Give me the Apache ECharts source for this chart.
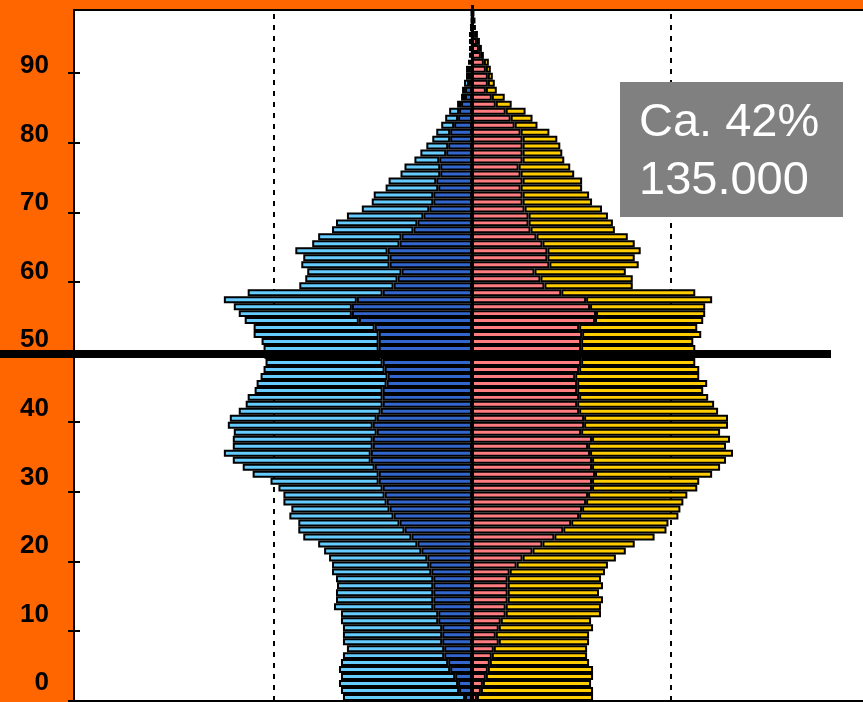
<!DOCTYPE html>
<html><head><meta charset="utf-8">
<script src="https://cdn.jsdelivr.net/npm/echarts@6/dist/echarts.min.js"></script>
<style>html,body{margin:0;padding:0;background:#FF6600;}#c{width:863px;height:702px;}</style>
</head><body><div id="c"></div>
<script>
const ages = [0,1,2,3,4,5,6,7,8,9,10,11,12,13,14,15,16,17,18,19,20,21,22,23,24,25,26,27,28,29,30,31,32,33,34,35,36,37,38,39,40,41,42,43,44,45,46,47,48,49,50,51,52,53,54,55,56,57,58,59,60,61,62,63,64,65,66,67,68,69,70,71,72,73,74,75,76,77,78,79,80,81,82,83,84,85,86,87,88,89,90,91,92,93,94,95,96,97,98];
const ageTicks = [0,10,20,30,40,50,60,70,80,90];
const maleTotal = [1300,1320,1340,1320,1340,1320,1300,1260,1300,1300,
 1300,1320,1320,1390,1370,1370,1360,1370,1410,1410,
 1440,1490,1550,1700,1750,1750,1840,1820,1900,1900,
 1950,2030,2210,2310,2410,2500,2410,2410,2400,2460,
 2440,2350,2280,2260,2190,2170,2130,2100,2080,2090,
 2100,2120,2200,2200,2290,2350,2400,2500,2260,1740,
 1680,1660,1720,1700,1780,1610,1550,1410,1370,1260,
 1110,1010,990,870,840,720,680,580,520,460,
 400,360,310,270,230,150,110,100,80,60,
 60,40,30,30,30,30,10,10,10];
const maleInner = [70,130,140,170,220,240,280,280,300,300,
 300,340,340,390,390,390,390,390,410,430,
 450,510,550,610,680,730,790,830,860,880,
 900,940,940,980,1020,1020,1000,1000,960,1000,
 960,920,900,900,900,860,850,880,900,920,
 940,940,940,980,1140,1210,1210,1160,900,790,
 750,710,830,830,850,730,710,590,550,490,
 430,390,390,340,360,320,320,330,260,240,
 220,220,180,140,130,110,70,70,30,30,
 30,20,10,10,10,10,10,0,0];
const femaleInner = [50,90,110,140,160,180,200,220,270,240,
 270,290,340,340,360,360,360,360,380,450,
 510,610,710,830,920,1000,1080,1110,1150,1170,
 1210,1210,1240,1210,1210,1190,1170,1210,1100,1130,
 1130,1080,1060,1080,1060,1060,1040,1080,1100,1100,
 1100,1100,1110,1080,1240,1250,1190,1150,900,730,
 690,630,780,760,760,710,650,590,570,570,
 530,510,510,490,510,490,470,510,510,510,
 510,490,430,390,340,240,200,140,160,160,
 140,120,90,70,50,30,20,20,10];
const femaleTotal = [1220,1220,1200,1220,1220,1180,1160,1160,1180,1180,
 1220,1200,1300,1300,1320,1280,1320,1300,1340,1370,
 1450,1550,1640,1840,1960,1980,2080,2100,2130,2170,
 2270,2290,2420,2500,2560,2630,2560,2600,2500,2580,
 2580,2480,2440,2380,2330,2370,2290,2290,2250,2250,
 2250,2230,2310,2270,2330,2350,2350,2420,2250,1620,
 1620,1550,1680,1640,1700,1640,1570,1440,1420,1370,
 1310,1210,1180,1110,1110,1030,990,930,910,890,
 860,780,660,610,540,400,330,250,230,210,
 190,170,120,100,80,60,40,30,20];
const guideLines = [-2000, 2000];
const divideAge = 49.8;
const boxText = ['Ca. 42%', '135.000'];

const chart = echarts.init(document.getElementById('c'), null, {renderer: 'canvas'});

const maleInnerData = maleInner.map(v => -v);
const maleOuterData = maleTotal.map((v, i) => -(v - maleInner[i]));
const femaleInnerData = femaleInner.slice();
const femaleOuterData = femaleTotal.map((v, i) => v - femaleInner[i]);

function barSeries(name, data, color) {
  return {
    name: name, type: 'bar', stack: 'pop', xAxisIndex: 0, yAxisIndex: 0,
    barCategoryGap: '0%', data: data, silent: true,
    itemStyle: {color: color, borderColor: '#000', borderWidth: 2}
  };
}

const X_MIN = -4010, X_MAX = 3940;

const option = {
  backgroundColor: '#FF6600',
  animation: false,
  grid: [
    {left: 74, top: 10, width: 789, height: 691, show: true, backgroundColor: '#ffffff', borderWidth: 0},
    {left: 74, top: 66, width: 789, height: 617, show: false}
  ],
  xAxis: [
    {gridIndex: 0, type: 'value', min: X_MIN, max: X_MAX, position: 'bottom',
     axisLine: {show: true, onZero: false, lineStyle: {color: '#000', width: 2}},
     axisTick: {show: false}, axisLabel: {show: false}, splitLine: {show: false}},
    {gridIndex: 1, type: 'value', min: 0, max: 1, show: false},
    {gridIndex: 0, type: 'value', min: X_MIN, max: X_MAX, position: 'top',
     axisLine: {show: true, onZero: false, lineStyle: {color: '#000', width: 2}},
     axisTick: {show: false}, axisLabel: {show: false}, splitLine: {show: false}}
  ],
  yAxis: [
    {gridIndex: 0, type: 'category', data: ages, show: false},
    {gridIndex: 0, type: 'value', min: 0, max: 99, interval: 10, position: 'left',
     axisLine: {show: true, onZero: false, lineStyle: {color: '#000', width: 2}},
     axisTick: {show: true, inside: false, length: 6, customValues: ageTicks, lineStyle: {color: '#000', width: 2}},
     axisLabel: {show: false}, splitLine: {show: false}},
    {gridIndex: 0, type: 'value', min: 0, max: 99, interval: 10, position: 'left',
     axisLine: {show: false, onZero: false},
     axisTick: {show: true, inside: true, length: 6, customValues: ageTicks, lineStyle: {color: '#000', width: 2}},
     axisLabel: {show: false}, splitLine: {show: false}},
    {gridIndex: 1, type: 'value', min: 0, max: 90, interval: 10, position: 'left',
     axisLine: {show: false, onZero: false}, axisTick: {show: false}, splitLine: {show: false},
     axisLabel: {show: true, margin: 25, color: '#000', fontFamily: '"Liberation Sans", Arial, sans-serif', fontWeight: 'bold', fontSize: 26}}
  ],
  series: [
    barSeries('maleInner', maleInnerData, '#3366CC'),
    barSeries('maleOuter', maleOuterData, '#66CCFF'),
    barSeries('femaleInner', femaleInnerData, '#FF7C80'),
    barSeries('femaleOuter', femaleOuterData, '#FFCC00'),
    {type: 'line', xAxisIndex: 0, yAxisIndex: 1, data: [], silent: true,
     markLine: {silent: true, z: 1, symbol: ['none', 'none'], label: {show: false}, emphasis: {disabled: true},
       lineStyle: {color: '#000', width: 2, type: [5, 6]},
       data: guideLines.map(v => [{xAxis: v, yAxis: 0}, {xAxis: v, yAxis: 99}])}},
    {type: 'line', xAxisIndex: 0, yAxisIndex: 1, data: [], silent: true,
     markLine: {silent: true, z: 10, symbol: ['none', 'none'], label: {show: false}, emphasis: {disabled: true},
       lineStyle: {color: '#000', type: 'solid'},
       data: [
         [{xAxis: 0, y: 5, lineStyle: {width: 3, color: '#000', type: 'solid'}}, {xAxis: 0, yAxis: 0}],
         [{x: 0, yAxis: divideAge, lineStyle: {width: 8, color: '#000', type: 'solid'}}, {x: 831, yAxis: divideAge}]
       ]}}
  ],
  graphic: [
    {type: 'rect', z: 50, shape: {x: 620, y: 82, width: 223, height: 135}, style: {fill: '#808080'}},
    {type: 'text', z: 51, style: {x: 639, y: 123, text: boxText[0], fill: '#ffffff', font: '47px "Liberation Sans", Arial, sans-serif', verticalAlign: 'middle', align: 'left'}},
    {type: 'text', z: 51, style: {x: 639, y: 181.5, text: boxText[1], fill: '#ffffff', font: '47px "Liberation Sans", Arial, sans-serif', verticalAlign: 'middle', align: 'left'}}
  ]
};
chart.setOption(option);
</script>
</body></html>
